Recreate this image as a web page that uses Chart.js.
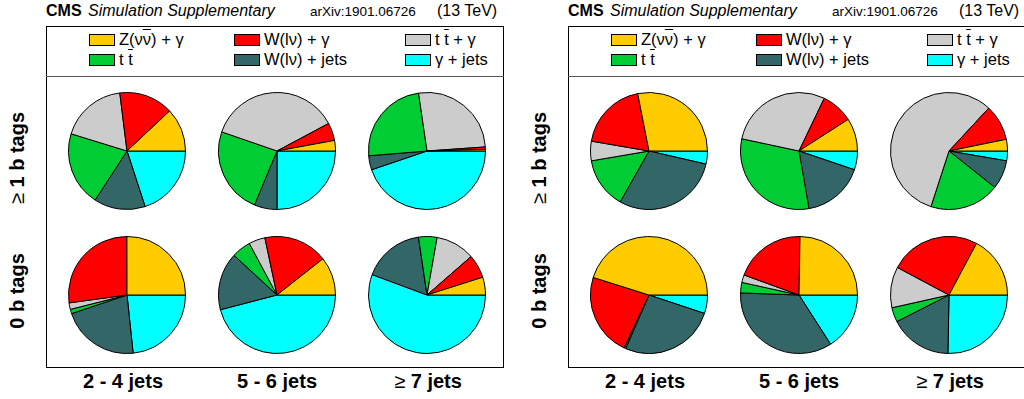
<!DOCTYPE html>
<html>
<head>
<meta charset="utf-8">
<script src="https://cdn.jsdelivr.net/npm/chart.js@4.4.0/dist/chart.umd.min.js"></script>
<style>
  body { margin: 0; background: #fff; font-family: "Liberation Sans", Arial, sans-serif; color: #000; }
  #page { position: relative; width: 1024px; height: 399px; overflow: hidden; }
  .abs { position: absolute; white-space: nowrap; }
  .frame { position: absolute; border: 1px solid #000; box-sizing: border-box; }
  .sep { position: absolute; height: 0; border-top: 1px solid #555; }
  .box { position: absolute; width: 26px; height: 12px; border: 1px solid #000; box-sizing: border-box; }
  .leg { font-size: 16.5px; line-height: 16px; }
  .ob { text-decoration: overline; }
  .big { font-size: 20px; font-weight: bold; }
  .rot { transform-origin: center; transform: translate(-50%, -50%) rotate(-90deg); }
  .thin { font-weight: normal; }
  canvas { position: absolute; }
</style>
</head>
<body>
<div id="page"></div>
<script>
// processes, drawn counter-clockwise from 3 o'clock
var processes = ['Z(νν̄) + γ', 'W(lν) + γ', 't t̄ + γ', 't t̄', 'W(lν) + jets', 'γ + jets'];
var legendHtml = ['Z(ν<span class="ob">ν</span>) + γ', 'W(lν) + γ', 't <span class="ob">t</span> + γ',
                  't <span class="ob">t</span>', 'W(lν) + jets', 'γ + jets'];
var colors = ['#FFCC00', '#FF0000', '#CCCCCC', '#00CC33', '#336666', '#00FFFF'];
var jetBins = ['2 - 4 jets', '5 - 6 jets', '<span class="thin">≥</span> 7 jets'];
var tagBins = ['<span class="thin">≥</span> 1 b tags', '0 b tags'];

// fractions (%) per jet bin
var leftOneB  = [[12.0, 15.0, 18.3, 20.6, 14.2, 20.0],
                 [2.9, 4.9, 36.9, 24.0, 6.3, 25.0],
                 [0.4, 0.7, 26.2, 24.0, 3.9, 44.8]];
var leftZeroB = [[25.0, 27.1, 1.8, 1.2, 21.5, 23.3],
                 [10.6, 17.7, 4.5, 5.3, 15.9, 45.9],
                 [4.9, 6.5, 10.8, 5.1, 17.0, 55.6]];
var rightOneB  = [[28.1, 19.2, 5.4, 14.1, 29.6, 3.6],
                  [9.1, 8.8, 28.8, 31.1, 17.1, 5.2],
                  [3.2, 9.9, 56.9, 19.3, 8.0, 2.7]];
var rightZeroB = [[45.1, 22.8, 0.1, 0.4, 26.4, 5.1],
                  [24.7, 19.7, 2.1, 2.9, 34.6, 15.9],
                  [17.2, 25.0, 11.3, 4.0, 17.2, 25.3]];

var page = document.getElementById('page');

function add(cls, html, css) {
    var d = document.createElement('div');
    d.className = cls;
    d.innerHTML = html || '';
    for (var k in css) d.style[k] = css[k];
    page.appendChild(d);
    return d;
}

function makePie(cx, cy, vals) {
    var c = document.createElement('canvas');
    c.width = 120; c.height = 118;
    c.style.left = (cx - 60) + 'px';
    c.style.top = (cy - 59) + 'px';
    page.appendChild(c);
    new Chart(c.getContext('2d'), {
        type: 'pie',
        data: {
            labels: processes.slice().reverse(),
            datasets: [{
                data: vals.slice().reverse(),
                backgroundColor: colors.slice().reverse(),
                borderColor: '#000',
                borderWidth: 1
            }]
        },
        options: {
            responsive: false,
            animation: false,
            rotation: 90,
            layout: { padding: 0 },
            plugins: { legend: { display: false }, tooltip: { enabled: false } }
        }
    });
}

function buildPanel(x0, right, oneB, zeroB) {
    // header
    add('abs', '<b>CMS</b>', { left: x0 + 'px', top: '2px', fontSize: '16px' });
    add('abs', '<i>Simulation Supplementary</i>', { left: (x0 + 42) + 'px', top: '2px', fontSize: '16px' });
    add('abs', 'arXiv:1901.06726', { left: (x0 + 264) + 'px', top: '4px', fontSize: '13.5px' });
    add('abs', '(13 TeV)', { left: (x0 + 391) + 'px', top: '2px', fontSize: '16px' });
    // frame + legend separator
    add('frame', '', { left: x0 + 'px', top: '26px', width: (right - x0) + 'px', height: '342px' });
    add('sep', '', { left: x0 + 'px', top: '76px', width: (right - x0) + 'px' });
    // legend
    var colX = [43, 188, 359];
    for (var i = 0; i < processes.length; i++) {
        var lx = x0 + colX[i % 3], ly = i < 3 ? 34 : 54;
        add('box', '', { left: lx + 'px', top: ly + 'px', background: colors[i] });
        add('abs leg', legendHtml[i], { left: (lx + 30) + 'px', top: (ly - 3) + 'px' });
    }
    // pies
    var px = [81, 231, 381], rowY = [151, 295];
    for (var j = 0; j < 3; j++) {
        makePie(x0 + px[j], rowY[0], oneB[j]);
        makePie(x0 + px[j], rowY[1], zeroB[j]);
        add('abs big', jetBins[j], { left: (x0 + [77, 231, 382][j]) + 'px', top: '370px', transform: 'translateX(-50%)' });
    }
    add('abs big rot', tagBins[0], { left: (x0 - 29) + 'px', top: '158px' });
    add('abs big rot', tagBins[1], { left: (x0 - 29) + 'px', top: '291px' });
}

buildPanel(46, 504, leftOneB, leftZeroB);
buildPanel(568, 1027, rightOneB, rightZeroB);
</script>
</body>
</html>
